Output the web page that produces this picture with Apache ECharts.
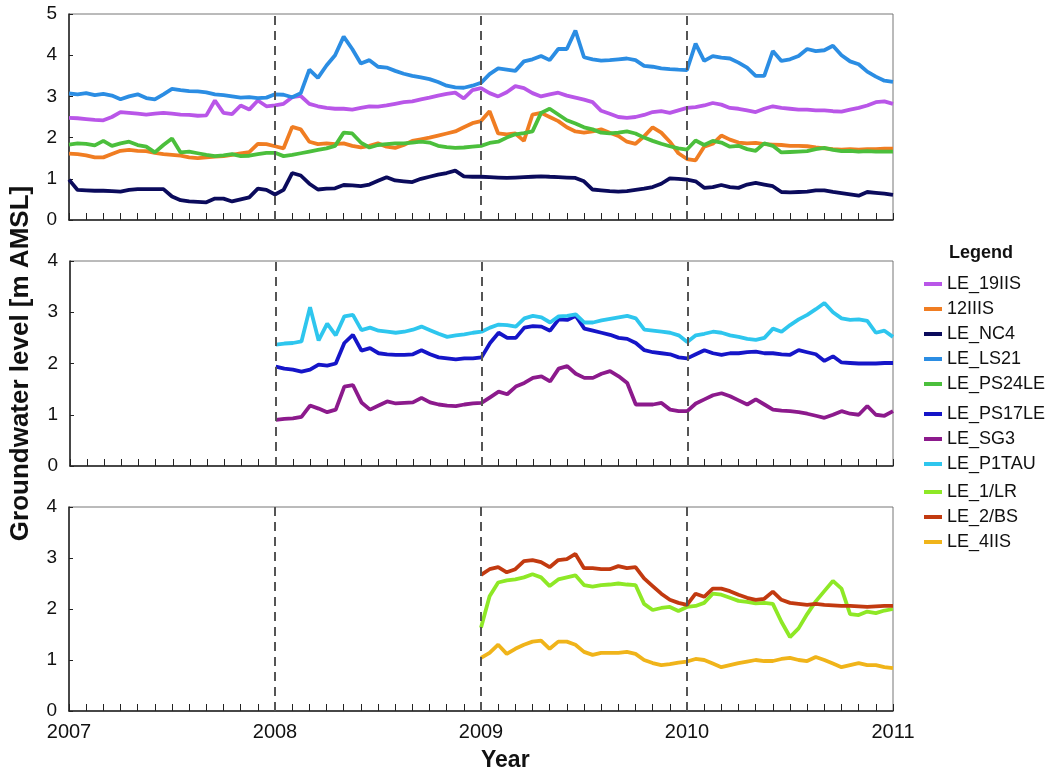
<!DOCTYPE html>
<html>
<head>
<meta charset="utf-8">
<script src="https://cdn.jsdelivr.net/npm/echarts@6.0.0/dist/echarts.min.js"></script>
<style>
html, body { margin: 0; background: #fff; }
#chart { width: 1060px; height: 775px; }
</style>
</head>
<body>
<div id="chart"></div>
<script>
// values, two samples per month
const STEP = 24;
const yearTicks = [2007, 2008, 2009, 2010, 2011];
const dashYears = [2008, 2009, 2010];

// panel 1, from 2007
const le19IIS = [2.48, 2.47, 2.45, 2.43, 2.42, 2.5, 2.62, 2.6, 2.58, 2.56, 2.58, 2.6, 2.58, 2.56, 2.55, 2.53, 2.54, 2.9, 2.6, 2.57, 2.78, 2.68, 2.9, 2.76,
  2.78, 2.82, 2.98, 3.01, 2.82, 2.76, 2.72, 2.7, 2.7, 2.68, 2.72, 2.76, 2.75, 2.78, 2.82, 2.86, 2.88, 2.93, 2.97, 3.02, 3.06, 3.09, 2.95, 3.15,
  3.2, 3.08, 3.0, 3.1, 3.25, 3.2, 3.08, 3.0, 3.05, 3.09, 3.02, 2.97, 2.92, 2.86, 2.65, 2.58, 2.5, 2.48, 2.5, 2.55, 2.62, 2.64, 2.6, 2.66,
  2.72, 2.74, 2.78, 2.84, 2.8, 2.72, 2.7, 2.66, 2.62, 2.7, 2.76, 2.72, 2.7, 2.68, 2.68, 2.66, 2.66, 2.64, 2.63, 2.68, 2.72, 2.78, 2.86, 2.88, 2.82];
const s12IIIS = [1.61, 1.6, 1.57, 1.52, 1.52, 1.6, 1.68, 1.7, 1.68, 1.67, 1.63, 1.6, 1.58, 1.56, 1.52, 1.5, 1.52, 1.54, 1.55, 1.58, 1.62, 1.65, 1.85, 1.84,
  1.79, 1.74, 2.26, 2.2, 1.9, 1.84, 1.86, 1.84, 1.86, 1.8, 1.76, 1.8, 1.86, 1.78, 1.75, 1.82, 1.92, 1.96, 2.0, 2.05, 2.1, 2.15, 2.25, 2.35,
  2.4, 2.64, 2.1, 2.08, 2.1, 1.92, 2.56, 2.6, 2.5, 2.4, 2.25, 2.15, 2.12, 2.15, 2.2, 2.12, 2.04, 1.9, 1.85, 2.03, 2.25, 2.12, 1.9, 1.62,
  1.48, 1.45, 1.78, 1.85, 2.05, 1.95, 1.88, 1.86, 1.87, 1.84, 1.83, 1.82, 1.8, 1.8, 1.79, 1.76, 1.74, 1.72, 1.71, 1.72, 1.71, 1.72, 1.72, 1.73, 1.73];
const leNC4 = [0.98, 0.73, 0.72, 0.71, 0.71, 0.7, 0.69, 0.73, 0.75, 0.75, 0.75, 0.75, 0.57, 0.48, 0.45, 0.44, 0.43, 0.52, 0.52, 0.45, 0.5, 0.55, 0.76, 0.73,
  0.62, 0.73, 1.14, 1.08, 0.88, 0.74, 0.76, 0.77, 0.85, 0.84, 0.82, 0.86, 0.95, 1.04, 0.96, 0.94, 0.92, 1.0, 1.05, 1.1, 1.14, 1.2, 1.06, 1.05,
  1.05, 1.04, 1.03, 1.02, 1.03, 1.04, 1.05, 1.06, 1.05, 1.04, 1.03, 1.02, 0.94, 0.74, 0.72, 0.7, 0.69, 0.7, 0.73, 0.76, 0.8, 0.88, 1.01, 1.0,
  0.98, 0.94, 0.78, 0.8, 0.85, 0.8, 0.78, 0.86, 0.9, 0.86, 0.82, 0.68, 0.67, 0.68, 0.69, 0.72, 0.72, 0.68, 0.65, 0.62, 0.59, 0.68, 0.66, 0.64, 0.61];
const leLS21 = [3.07, 3.05, 3.08, 3.03, 3.06, 3.02, 2.93, 3.0, 3.05, 2.96, 2.93, 3.05, 3.18, 3.15, 3.13, 3.12, 3.1, 3.05, 3.03, 3.0, 2.97, 2.98, 2.96, 2.97,
  3.05, 3.04, 2.98, 3.08, 3.65, 3.45, 3.75, 4.0, 4.45, 4.15, 3.8, 3.88, 3.72, 3.7, 3.62, 3.55, 3.5, 3.46, 3.42, 3.35, 3.26, 3.22, 3.21, 3.26,
  3.33, 3.54, 3.68, 3.65, 3.62, 3.85, 3.9, 3.98, 3.88, 4.15, 4.15, 4.6, 3.95, 3.9, 3.87, 3.88, 3.9, 3.92, 3.88, 3.74, 3.72, 3.68, 3.66, 3.65,
  3.64, 4.28, 3.86, 3.98, 3.94, 3.92, 3.82, 3.7, 3.5, 3.5, 4.1, 3.86, 3.9, 3.98, 4.15, 4.1, 4.12, 4.23, 4.0, 3.85, 3.78, 3.6, 3.48, 3.38, 3.35];
const lePS24LE = [1.83, 1.86, 1.85, 1.81, 1.92, 1.8, 1.86, 1.9, 1.82, 1.78, 1.64, 1.82, 1.98, 1.64, 1.66, 1.62, 1.58, 1.55, 1.57, 1.6, 1.55, 1.56, 1.6, 1.63,
  1.63, 1.55, 1.58, 1.62, 1.66, 1.7, 1.74, 1.8, 2.12, 2.1, 1.88, 1.76, 1.82, 1.84, 1.86, 1.86, 1.88, 1.9, 1.88, 1.8, 1.77, 1.75, 1.76, 1.78,
  1.8, 1.87, 1.9, 2.0, 2.08, 2.11, 2.15, 2.6, 2.7, 2.56, 2.42, 2.34, 2.25, 2.2, 2.12, 2.1, 2.12, 2.15, 2.1, 2.0, 1.92, 1.85, 1.79, 1.74,
  1.71, 1.93, 1.82, 1.92, 1.88, 1.78, 1.8, 1.72, 1.68, 1.86, 1.8, 1.64, 1.65, 1.66, 1.67, 1.72, 1.75, 1.7, 1.67, 1.68, 1.66, 1.67, 1.66, 1.66, 1.66];

// panel 2, from 2008
const lePS17LE = [1.94, 1.9, 1.88, 1.84, 1.88, 1.98, 1.96, 2.0, 2.4, 2.56, 2.25, 2.3, 2.2, 2.18, 2.17, 2.17, 2.18, 2.26, 2.18, 2.12, 2.1, 2.08, 2.1, 2.1,
  2.12, 2.4, 2.6, 2.5, 2.5, 2.7, 2.73, 2.72, 2.64, 2.86, 2.85, 2.93, 2.68, 2.64, 2.6, 2.56, 2.5, 2.48, 2.4, 2.26, 2.22, 2.2, 2.18, 2.12,
  2.1, 2.18, 2.26, 2.2, 2.17, 2.2, 2.2, 2.22, 2.23, 2.2, 2.2, 2.18, 2.17, 2.26, 2.22, 2.18, 2.05, 2.14, 2.02, 2.01, 2.0, 2.0, 2.0, 2.01, 2.01];
const leSG3 = [0.9, 0.92, 0.93, 0.96, 1.18, 1.12, 1.05, 1.1, 1.55, 1.58, 1.24, 1.1, 1.18, 1.26, 1.22, 1.23, 1.24, 1.33, 1.24, 1.2, 1.18, 1.17, 1.2, 1.22,
  1.23, 1.34, 1.45, 1.4, 1.55, 1.62, 1.72, 1.75, 1.65, 1.9, 1.95, 1.8, 1.72, 1.72, 1.8, 1.85, 1.75, 1.62, 1.2, 1.2, 1.2, 1.23, 1.1, 1.07,
  1.07, 1.22, 1.3, 1.38, 1.42, 1.36, 1.28, 1.2, 1.3, 1.2, 1.1, 1.08, 1.07, 1.05, 1.02, 0.98, 0.94, 1.0, 1.07, 1.02, 1.0, 1.17, 1.0, 0.98, 1.07];
const leP1TAU = [2.37, 2.39, 2.4, 2.43, 3.1, 2.45, 2.78, 2.55, 2.92, 2.95, 2.65, 2.7, 2.64, 2.62, 2.6, 2.62, 2.66, 2.72, 2.65, 2.58, 2.52, 2.55, 2.57, 2.6,
  2.62, 2.7, 2.76, 2.75, 2.72, 2.88, 2.93, 2.9, 2.8, 2.92, 2.93, 2.96, 2.8, 2.8, 2.84, 2.87, 2.9, 2.93, 2.88, 2.66, 2.64, 2.62, 2.6, 2.55,
  2.42, 2.55, 2.58, 2.62, 2.6, 2.55, 2.52, 2.48, 2.46, 2.5, 2.68, 2.62, 2.75, 2.86, 2.95, 3.06, 3.18, 3.0, 2.88, 2.85, 2.86, 2.83, 2.6, 2.64, 2.52];

// panel 3, from 2009
const le1LR = [1.63, 2.25, 2.52, 2.56, 2.58, 2.62, 2.68, 2.62, 2.45, 2.58, 2.62, 2.66, 2.47, 2.44, 2.47, 2.48, 2.5, 2.48, 2.47, 2.1, 1.98, 2.02, 2.04, 1.96,
  2.04, 2.06, 2.12, 2.3, 2.28, 2.22, 2.16, 2.14, 2.11, 2.12, 2.1, 1.75, 1.45, 1.62, 1.9, 2.15, 2.35, 2.55, 2.4, 1.9, 1.88, 1.95, 1.92, 1.97, 2.0];
const le2BS = [2.67, 2.78, 2.82, 2.72, 2.78, 2.94, 2.96, 2.92, 2.82, 2.96, 2.98, 3.08, 2.8, 2.8, 2.78, 2.78, 2.84, 2.8, 2.82, 2.6, 2.45, 2.3, 2.18, 2.12,
  2.08, 2.3, 2.24, 2.4, 2.4, 2.35, 2.28, 2.22, 2.18, 2.2, 2.34, 2.18, 2.12, 2.1, 2.08, 2.1, 2.08, 2.07, 2.06, 2.06, 2.05, 2.04, 2.05, 2.06, 2.06];
const le4IIS = [1.04, 1.14, 1.3, 1.12, 1.22, 1.3, 1.36, 1.38, 1.22, 1.36, 1.36, 1.3, 1.16, 1.1, 1.14, 1.14, 1.14, 1.16, 1.12, 1.0, 0.94, 0.9, 0.92, 0.95,
  0.97, 1.02, 1.0, 0.93, 0.86, 0.9, 0.94, 0.97, 1.0, 0.98, 0.98, 1.02, 1.04, 1.0, 0.98, 1.06, 1.0, 0.93, 0.86, 0.9, 0.94, 0.9, 0.9, 0.86, 0.84];

const wells = [
  { name: 'LE_19IIS', panel: 0, start: 2007, values: le19IIS, color: '#b956e8' },
  { name: '12IIIS', panel: 0, start: 2007, values: s12IIIS, color: '#f07d22' },
  { name: 'LE_NC4', panel: 0, start: 2007, values: leNC4, color: '#0b0b5c' },
  { name: 'LE_LS21', panel: 0, start: 2007, values: leLS21, color: '#2b8de3' },
  { name: 'LE_PS24LE', panel: 0, start: 2007, values: lePS24LE, color: '#4bbf3c' },
  { name: 'LE_PS17LE', panel: 1, start: 2008, values: lePS17LE, color: '#1515c8' },
  { name: 'LE_SG3', panel: 1, start: 2008, values: leSG3, color: '#8c1a8c' },
  { name: 'LE_P1TAU', panel: 1, start: 2008, values: leP1TAU, color: '#2ec6ee' },
  { name: 'LE_1/LR', panel: 2, start: 2009, values: le1LR, color: '#8ee826' },
  { name: 'LE_2/BS', panel: 2, start: 2009, values: le2BS, color: '#c23a10' },
  { name: 'LE_4IIS', panel: 2, start: 2009, values: le4IIS, color: '#f0b41a' }
];

const panels = [
  { top: 14, height: 206, max: 5 },
  { top: 261, height: 205, max: 4 },
  { top: 507, height: 204, max: 4 }
];

const FONT = 'Liberation Sans, Arial, sans-serif';

let chart = echarts.init(document.getElementById('chart'));

let grids = panels.map(p => ({
  left: 69, right: 167, top: p.top, height: p.height,
  show: true, borderColor: '#777', borderWidth: 1
}));

let xAxes = panels.map((p, i) => ({
  type: 'value', gridIndex: i,
  min: yearTicks[0], max: yearTicks[yearTicks.length - 1], interval: 1,
  axisLine: { lineStyle: { color: '#222', width: 1.5 } },
  axisTick: { inside: true, length: 7, lineStyle: { color: '#222' } },
  minorTick: { show: true, splitNumber: 12, length: 7, lineStyle: { color: '#222' } },
  splitLine: { show: false },
  axisLabel: {
    show: i === 2, fontSize: 20, color: '#111', margin: 11, fontFamily: FONT,
    formatter: v => String(Math.round(v))
  }
}));

let yAxes = panels.map((p, i) => ({
  type: 'value', gridIndex: i, min: 0, max: p.max, interval: 1,
  axisLine: { show: true, lineStyle: { color: '#222', width: 1.5 } },
  axisTick: { show: true, inside: true, length: 4, lineStyle: { color: '#222' } },
  splitLine: { show: false },
  axisLabel: { fontSize: 19, color: '#111', margin: 12, fontFamily: FONT },
  name: i === 1 ? 'Groundwater level [m AMSL]' : '',
  nameLocation: 'middle', nameRotate: 90, nameGap: 36,
  nameTextStyle: { fontSize: 26, fontWeight: 'bold', color: '#111', fontFamily: FONT }
}));

let firstInPanel = {};
let series = wells.map(w => {
  let s = {
    name: w.name, type: 'line',
    xAxisIndex: w.panel, yAxisIndex: w.panel,
    showSymbol: false, symbol: 'none',
    color: w.color,
    lineStyle: { width: 3.8, color: w.color },
    data: w.values.map((v, i) => [w.start + i / STEP, v])
  };
  if (!firstInPanel[w.panel]) {
    firstInPanel[w.panel] = true;
    s.markLine = {
      silent: true, symbol: ['none', 'none'], label: { show: false },
      lineStyle: { color: '#555', type: [9, 6], width: 2 },
      data: dashYears.map(y => ({ xAxis: y }))
    };
  }
  return s;
});

let legendStyle = {
  orient: 'vertical', left: 919, itemWidth: 18, itemHeight: 4, itemGap: 7,
  icon: 'rect', selectedMode: false,
  textStyle: { fontSize: 18, color: '#111', fontFamily: FONT }
};
let legendTops = [270, 400, 478];
let legends = legendTops.map((top, i) => Object.assign({}, legendStyle, {
  top: top,
  data: wells.filter(w => w.panel === i).map(w => w.name)
}));

chart.setOption({
  animation: false,
  backgroundColor: '#fff',
  grid: grids,
  xAxis: xAxes,
  yAxis: yAxes,
  legend: legends,
  graphic: [
    { type: 'text', left: 949, top: 244,
      style: { text: 'Legend', fontSize: 18, fontWeight: 'bold', fill: '#111', fontFamily: FONT } },
    { type: 'text', left: 481, top: 749,
      style: { text: 'Year', fontSize: 23, fontWeight: 'bold', fill: '#111', fontFamily: FONT } }
  ],
  series: series
});
</script>
</body>
</html>
